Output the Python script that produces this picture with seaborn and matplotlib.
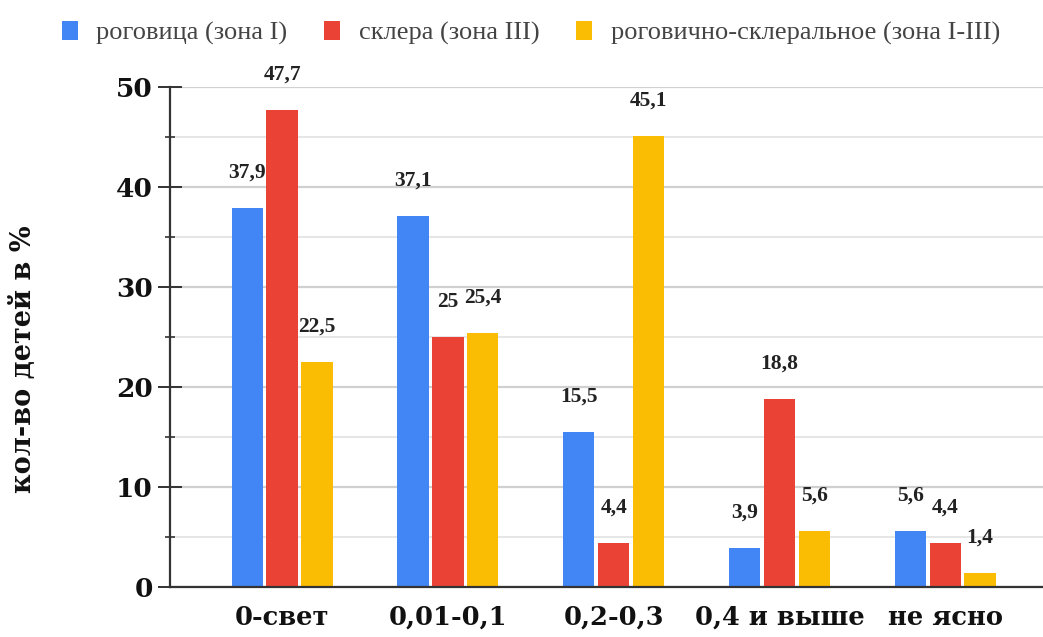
import matplotlib
matplotlib.use("Agg")
import matplotlib.pyplot as plt
import seaborn as sns
import pandas as pd
from matplotlib.ticker import MultipleLocator
from matplotlib.patches import Patch

categories = ["0-свет", "0,01-0,1", "0,2-0,3", "0,4 и выше", "не ясно"]
series_names = ["роговица (зона I)", "склера (зона III)", "роговично-склеральное (зона I-III)"]
cornea = [37.9, 37.1, 15.5, 3.9, 5.6]
sclera = [47.7, 25.0, 4.4, 18.8, 4.4]
corneosclera = [22.5, 25.4, 45.1, 5.6, 1.4]
colors = ["#4285F4", "#EA4335", "#FBBC04"]
y_label = "кол-во детей в %"

rows = []
for name, vals in zip(series_names, [cornea, sclera, corneosclera]):
    for c, v in zip(categories, vals):
        rows.append({"cat": c, "series": name, "val": v})
df = pd.DataFrame(rows)

sns.set_theme(style="white")
plt.rcParams['font.family'] = ['Liberation Serif', 'DejaVu Serif']
wide = ['DejaVu Serif', 'Liberation Serif']

fig = plt.figure(figsize=(10.43, 6.37), dpi=100)
ax = fig.add_axes([170/1043, 50/637, 1 - 170/1043, 500/637])

sns.barplot(data=df, x="cat", y="val", hue="series", order=categories,
            hue_order=series_names, palette=colors, width=0.63, gap=0.1,
            ax=ax, legend=False, saturation=1, edgecolor="none")

ax.set_xlim(-0.676, 4.59)
ax.set_ylim(0, 50)
ax.yaxis.set_major_locator(MultipleLocator(10))
ax.yaxis.set_minor_locator(MultipleLocator(5))
ax.grid(axis="y", which="major", color="#d0d0d0", linewidth=1.6, zorder=0)
ax.grid(axis="y", which="minor", color="#e6e6e6", linewidth=1.4, zorder=0)
ax.set_axisbelow(True)

for s in ["top", "right"]:
    ax.spines[s].set_visible(False)
ax.spines["left"].set_color("#333333")
ax.spines["left"].set_linewidth(1.6)
ax.spines["bottom"].set_color("#333333")
ax.spines["bottom"].set_linewidth(1.6)

ax.tick_params(axis="y", which="major", direction="inout", length=17, width=1.4,
               color="#333333", pad=4, left=True)
ax.tick_params(axis="y", which="minor", direction="inout", length=6.5, width=1.2,
               color="#333333", left=True)
ax.tick_params(axis="x", length=0, pad=13)
for lab in ax.get_yticklabels():
    lab.set_fontweight("bold")
    lab.set_family(wide)
    lab.set_fontsize(19)
    lab.set_color("#111111")
for lab in ax.get_xticklabels():
    lab.set_fontweight("bold")
    lab.set_family(wide)
    lab.set_fontsize(18.5)
    lab.set_color("#111111")

ax.set_xlabel("")
ax.set_ylabel(y_label, fontsize=19.5, fontweight="bold", color="#111111", family=wide)
ax.yaxis.set_label_coords(-0.152, 0.456)

for cont in ax.containers:
    labels = [f"{b.get_height():g}".replace(".", ",") for b in cont]
    ax.bar_label(cont, labels=labels, padding=18, fontsize=15.5, fontweight="bold",
                 color="#222222", clip_on=False)

handles = [Patch(facecolor=c, edgecolor="none") for c in colors]
fig.legend(handles, series_names, loc="center left", bbox_to_anchor=(0.0595, 0.948),
           ncol=3, frameon=False, fontsize=19, handlelength=0.6, handleheight=0.75,
           handletextpad=0.7, columnspacing=1.4, labelcolor="#444444",
           borderaxespad=0, borderpad=0)

fig.savefig("out.png", dpi=100)
